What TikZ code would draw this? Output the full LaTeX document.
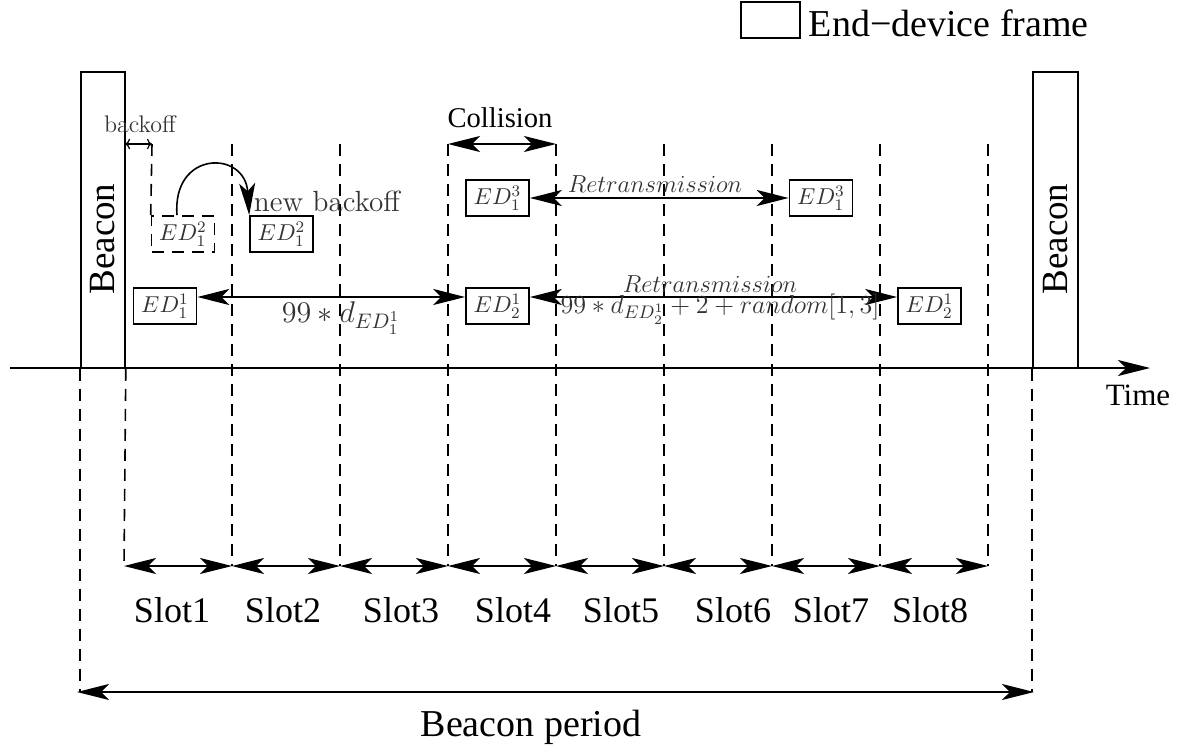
\RequirePackage{fix-cm}
\documentclass[tikz,border=0pt]{standalone}
\usepackage{fontspec}
\newfontfamily\timesfont{Liberation Serif}
\usetikzlibrary{arrows.meta}

\begin{document}
\begin{tikzpicture}[x=0.5pt,y=-0.5pt,line width=0.8pt,
  framebox/.style={draw,inner sep=0pt,minimum width=31.5pt,minimum height=18pt,font=\fontsize{11.5}{13}\selectfont,text=black!80},
  dashbox/.style={framebox,dash pattern=on 6pt off 4pt},
  slotline/.style={dash pattern=on 6pt off 4pt},
  bigarrow/.style={{Stealth[length=16pt,width=8pt,inset=4pt]}-{Stealth[length=16pt,width=8pt,inset=4pt]}},
  onearrow/.style={-{Stealth[length=16pt,width=8pt,inset=4pt]}},
  smallarrow/.style={{To[length=2.5pt]}-{To[length=2.5pt]},line width=0.6pt},
  timeslabel/.style={font=\timesfont\fontsize{18.5}{21}\selectfont},
  slotlabel/.style={font=\timesfont\fontsize{18}{21}\selectfont,anchor=base,inner sep=0pt},
  mathlabel/.style={text=black!80,anchor=base,inner sep=0pt}
]
\useasboundingbox (0,0) rectangle (1182,749);

% legend
\node[draw,inner sep=0pt,minimum width=29.5pt,minimum height=18pt,anchor=north west] (legbox) at (740,1) {};
\node[font=\timesfont\fontsize{19}{22}\selectfont,anchor=base west,inner sep=0pt] (legtext) at (808,37) {End−device frame};

% beacons
\node[draw,inner sep=0pt,minimum width=22pt,minimum height=148pt] (beaconL) at (103,220) {};
\node[draw,inner sep=0pt,minimum width=22.5pt,minimum height=148pt] (beaconR) at (1055.5,220) {};
\node[timeslabel,rotate=90] (beaconLtext) at (103,239) {Beacon};
\node[timeslabel,rotate=90] (beaconRtext) at (1055.5,239) {Beacon};

% time axis
\coordinate (axisL) at (10,368);
\coordinate (axisR) at (1150,368);
\draw[onearrow] (axisL) -- (axisR);
\node[font=\timesfont\fontsize{15.5}{18}\selectfont,anchor=base,inner sep=0pt] (timelabel) at (1138,405) {Time};

% slot borders
\coordinate (t1) at (232,144);
\coordinate (t2) at (340,144);
\coordinate (t3) at (448,144);
\coordinate (t4) at (556,144);
\coordinate (t5) at (664,144);
\coordinate (t6) at (772,144);
\coordinate (t7) at (880,144);
\coordinate (t8) at (988,144);
\coordinate (s0) at (124,566);
\coordinate (s1) at (232,566);
\coordinate (s2) at (340,566);
\coordinate (s3) at (448,566);
\coordinate (s4) at (556,566);
\coordinate (s5) at (664,566);
\coordinate (s6) at (772,566);
\coordinate (s7) at (880,566);
\coordinate (s8) at (988,566);
\draw[slotline] (beaconL.south east) -- (s0);
\draw[slotline] (t1) -- (s1);
\draw[slotline] (t2) -- (s2);
\draw[slotline] (t3) -- (s3);
\draw[slotline] (t4) -- (s4);
\draw[slotline] (t5) -- (s5);
\draw[slotline] (t6) -- (s6);
\draw[slotline] (t7) -- (s7);
\draw[slotline] (t8) -- (s8);
\draw[bigarrow] (s0) -- (s1);
\draw[bigarrow] (s1) -- (s2);
\draw[bigarrow] (s2) -- (s3);
\draw[bigarrow] (s3) -- (s4);
\draw[bigarrow] (s4) -- (s5);
\draw[bigarrow] (s5) -- (s6);
\draw[bigarrow] (s6) -- (s7);
\draw[bigarrow] (s7) -- (s8);
\node[slotlabel] (slot1) at (172,622) {Slot1};
\node[slotlabel] (slot2) at (283,622) {Slot2};
\node[slotlabel] (slot3) at (401,622) {Slot3};
\node[slotlabel] (slot4) at (513,622) {Slot4};
\node[slotlabel] (slot5) at (621,622) {Slot5};
\node[slotlabel] (slot6) at (733,622) {Slot6};
\node[slotlabel] (slot7) at (831,622) {Slot7};
\node[slotlabel] (slot8) at (930,622) {Slot8};

% beacon period
\coordinate (bp1) at (77,692);
\coordinate (bp2) at (1034,692);
\draw[slotline] (beaconL.south west) -- (beaconL.south west |- bp1);
\draw[slotline] (beaconR.south west) -- (beaconR.south west |- bp2);
\draw[bigarrow] (bp1) -- (bp2);
\node[font=\timesfont\fontsize{19}{22}\selectfont,anchor=base,inner sep=0pt] (bplabel) at (531,736) {Beacon period};

% backoff
\coordinate (bo1) at (125,144);
\coordinate (bo2) at (152,144);
\draw[smallarrow] (bo1) -- (bo2);
\node[mathlabel,font=\fontsize{12}{14}\selectfont] (backofflabel) at (140,133) {backoff};

% end-device frames
\node[dashbox] (ed12a) at (183,234) {$ED_1^2$};
\node[framebox] (ed12b) at (281.5,234) {$ED_1^2$};
\node[framebox] (ed11) at (165,306) {$ED_1^1$};
\node[framebox] (ed21a) at (497.5,306) {$ED_2^1$};
\node[framebox] (ed21b) at (929.5,306) {$ED_2^1$};
\node[framebox] (ed13a) at (497.5,198) {$ED_1^3$};
\node[framebox] (ed13b) at (821,198) {$ED_1^3$};
\draw[slotline] (bo2) -- (ed12a.north west);

% new backoff
\draw[onearrow] ([xshift=-3pt]ed12a.north) .. controls (172,150) and (245,150) .. (ed12b.north west);
\node[mathlabel,font=\fontsize{14.6}{17}\selectfont] (newbackoff) at (327,211) {new backoff};

% collision
\draw[bigarrow] (t3) -- (t4);
\node[font=\timesfont\fontsize{14.3}{17}\selectfont,anchor=base,inner sep=0pt] (collision) at (500,127) {Collision};

% retransmissions
\draw[bigarrow] ([yshift=4.5pt]ed11.east) -- ([yshift=4.5pt]ed21a.west);
\node[mathlabel,font=\fontsize{15}{18}\selectfont] (delay1) at (341,322) {$99*d_{ED_1^1}$};
\draw[bigarrow] (ed13a.east) -- (ed13b.west);
\node[mathlabel,font=\fontsize{12.3}{15}\selectfont] (retx1) at (655,192) {$Retransmission$};
\draw[bigarrow] ([yshift=4.5pt]ed21a.east) -- ([yshift=4.5pt]ed21b.west);
\node[mathlabel,font=\fontsize{12.3}{15}\selectfont] (retx2) at (710,292) {$Retransmission$};
\node[mathlabel,font=\fontsize{13}{15}\selectfont] (delay2) at (720,313) {$99*d_{ED_2^1}+2+random[1,3]$};
\end{tikzpicture}
\end{document}
